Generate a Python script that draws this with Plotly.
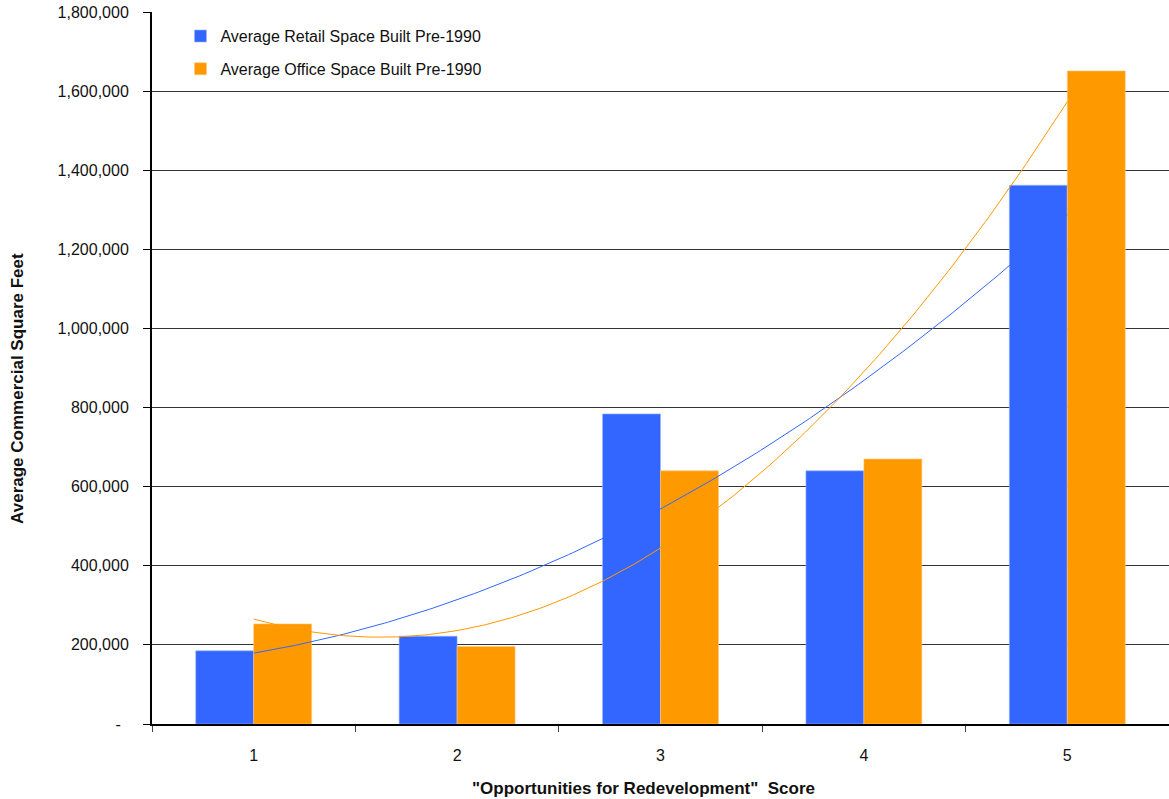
import numpy as np
import plotly.graph_objects as go

# Redevelopment score categories
scores = [1, 2, 3, 4, 5]
score_labels = ["1", "2", "3", "4", "5"]

# Average commercial square feet built before 1990, by score
retail_sqft = [185000, 222000, 784000, 640000, 1362000]
office_sqft = [253000, 196000, 640000, 670000, 1651000]

# Y axis ticks (accounting-style dash for zero)
y_ticks = [0, 200000, 400000, 600000, 800000, 1000000, 1200000, 1400000, 1600000, 1800000]
y_tick_text = ["-\u2002", "200,000", "400,000", "600,000", "800,000", "1,000,000",
               "1,200,000", "1,400,000", "1,600,000", "1,800,000"]

BLUE = "#3366FF"
ORANGE = "#FF9900"
FONT = "Liberation Sans, Arial, sans-serif"

# Second-order polynomial trendlines for each series
xs = np.linspace(scores[0], scores[-1], 200)
retail_fit = np.polyval(np.polyfit(scores, retail_sqft, 2), xs)
office_fit = np.polyval(np.polyfit(scores, office_sqft, 2), xs)

fig = go.Figure()

# Trendlines first so the bars sit on top of them
fig.add_trace(go.Scatter(x=xs, y=retail_fit, mode="lines",
                         line=dict(color=BLUE, width=1),
                         showlegend=False, hoverinfo="skip"))
fig.add_trace(go.Scatter(x=xs, y=office_fit, mode="lines",
                         line=dict(color=ORANGE, width=1),
                         showlegend=False, hoverinfo="skip"))

fig.add_trace(go.Bar(x=scores, y=retail_sqft, name="Average Retail Space Built Pre-1990",
                     legendgroup="retail",
                     marker=dict(color=BLUE, line=dict(color="#9DB4FF", width=0.6))))
fig.add_trace(go.Bar(x=scores, y=office_sqft, name="Average Office Space Built Pre-1990",
                     legendgroup="office",
                     marker=dict(color=ORANGE, line=dict(color="#FFC880", width=0.6))))

fig.update_layout(
    width=1169, height=799,
    margin=dict(l=152, r=0, t=12, b=75),
    paper_bgcolor="white", plot_bgcolor="white",
    barmode="group", bargap=0.43, bargroupgap=0,
    font=dict(family=FONT, size=16, color="#111"),
    legend=dict(x=0.028, y=0.99, xanchor="left", yanchor="top",
                bgcolor="rgba(0,0,0,0)", font=dict(size=16),
                itemwidth=30, tracegroupgap=9),
    showlegend=True,
)

# Axis titles, centred on the chart area
fig.add_annotation(text="<b>\"Opportunities for Redevelopment\"  Score</b>",
                   xref="paper", yref="paper", x=0.483, y=-0.0899,
                   xanchor="center", yanchor="middle", showarrow=False,
                   font=dict(size=17, family=FONT, color="#111"))
fig.add_annotation(text="<b>Average Commercial Square Feet</b>",
                   xref="paper", yref="paper", x=-0.1318, y=0.472,
                   xanchor="center", yanchor="middle", showarrow=False,
                   textangle=-90,
                   font=dict(size=17, family=FONT, color="#111"))

fig.update_xaxes(
    range=[0.5, 5.5], tickvals=scores, ticktext=score_labels,
    ticks="outside", ticklen=0, ticklabelstandoff=16,
    minor=dict(tick0=0.5, dtick=1, ticks="outside", ticklen=6,
               tickcolor="#444", tickwidth=1, showgrid=False),
    showline=True, linecolor="black", linewidth=2,
    showgrid=False, zeroline=False,
)

fig.update_yaxes(
    range=[0, 1800000], tickvals=y_ticks, ticktext=y_tick_text,
    ticks="outside", ticklen=7, tickcolor="black", ticklabelstandoff=11,
    showline=True, linecolor="black", linewidth=2,
    showgrid=True, gridcolor="#333", gridwidth=1, zeroline=False,
)

fig.write_html("out.html")
